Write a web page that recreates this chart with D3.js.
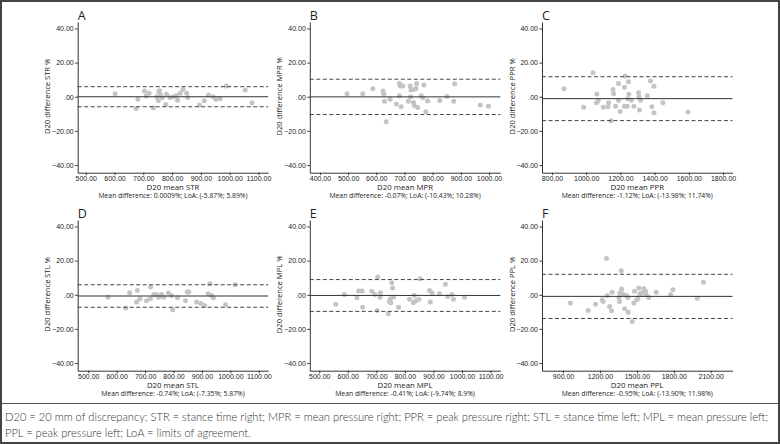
<!DOCTYPE html>
<html lang="en">
<head>
  <meta charset="utf-8" />
  <title>Bland-Altman plots D20</title>
  <script src="https://cdn.jsdelivr.net/npm/d3@7"></script>
  <style>
    body { margin: 0; background: #fff; }
    svg { display: block; font-family: "Open Sans", sans-serif; }
    .axis path, .axis line { stroke: #333; }
    .axis text { fill: #222; font-size: 7px; }
    .note { font-family: Lato, "Open Sans", sans-serif; font-weight: 300; fill: #333; }
  </style>
</head>
<body>
  <script type="text/javascript">
    // panel order: A STR, B MPR, C PPR, D STL, E MPL, F PPL
    var letters = ["A", "B", "C", "D", "E", "F"];
    var codes = ["STR", "MPR", "PPR", "STL", "MPL", "PPL"];
    var meanDiff = [0.0009, -0.07, -1.12, -0.74, -0.41, -0.95];
    var loaLow = [-5.87, -10.43, -13.98, -7.35, -9.74, -13.90];
    var loaHigh = [5.89, 10.28, 11.74, 5.87, 8.9, 11.98];
    var subtitles = [
      "Mean difference: 0.0009%; LoA: (-5.87%; 5.89%)",
      "Mean difference: -0.07%; LoA: (-10.43%; 10.28%)",
      "Mean difference: -1.12%; LoA: (-13.98%; 11.74%)",
      "Mean difference: -0.74%; LoA: (-7.35%; 5.87%)",
      "Mean difference: -0.41%; LoA: (-9.74%; 8.9%)",
      "Mean difference: -0.95%; LoA: (-13.90%; 11.98%)"
    ];
    var xDomains = [[472, 1134], [364, 1040], [742, 1855], [463, 1133], [467, 1134], [729, 2277]];
    var xTicks = [
      [500, 600, 700, 800, 900, 1000, 1100],
      [400, 500, 600, 700, 800, 900, 1000],
      [800, 1000, 1200, 1400, 1600, 1800],
      [500, 600, 700, 800, 900, 1000, 1100],
      [500, 600, 700, 800, 900, 1000, 1100],
      [900, 1200, 1500, 1800, 2100]
    ];
    var yTicks = [-40, -20, 0, 20, 40];
    var notes = [
      "D20 = 20 mm of discrepancy; STR = stance time right; MPR = mean pressure right; PPR = peak pressure right; STL = stance time left; MPL = mean pressure left;",
      "PPL = peak pressure left; LoA = limits of agreement."
    ];

    var strMean = [602, 675, 681, 704, 710, 720, 735, 747, 754, 756, 752, 760, 766, 778, 781, 793, 805, 814, 819, 828, 838, 851, 854, 895, 912, 926, 943, 952, 967, 988, 1054, 1078];
    var strDiff = [1.8, -6.9, -1.4, 3.3, 0.4, 2, -6.5, 0, 2.9, 3.5, -2.4, 1, -0.6, -4.5, 1.4, -0.4, 0, 0.6, -2, 2, 4.3, 2, -0.4, -4.9, -2.4, 1, 0, -1.4, -1.2, 6.3, 3.9, -3.5];

    var mprMean = [496, 552, 588, 624, 627, 629, 649, 635, 671, 682, 685, 682, 688, 694, 714, 720, 723, 722, 734, 741, 743, 732, 735, 747, 759, 765, 769, 776, 782, 825, 851, 875, 878, 969, 998];
    var mprDiff = [1.8, 1.8, 4.7, 3.3, 1.4, -2.7, -1.4, -14.7, -4.3, 7.8, 6.3, 0.6, -5.9, 6.3, -2.7, 6.3, 3.9, 0, 4.3, 4.9, 7.8, -3.3, -5.1, -6.3, 0.6, -0.6, 6.9, -8.8, -2.5, -2.2, 0.2, -2.7, 7.6, -4.9, -5.5];

    var pprMean = [870, 985, 1040, 1062, 1060, 1070, 1100, 1131, 1127, 1146, 1157, 1160, 1172, 1189, 1189, 1199, 1224, 1228, 1247, 1224, 1240, 1243, 1249, 1263, 1279, 1306, 1308, 1318, 1312, 1357, 1376, 1384, 1396, 1396, 1448, 1595];
    var pprDiff = [4.7, -6.2, 14, 1.6, -3.5, -2.3, -6.2, -3.5, -5.9, -14, 4.3, 1.8, -5.5, 7.8, -2, -8.6, 5.5, 12.1, 8.8, -5.5, -5.5, -1.2, 1.4, -2, -5.5, 2.3, 0, -2, -7.8, 0.6, 9.2, -5.9, 6.2, -9.4, -3.5, -9];

    var stlMean = [570, 632, 646, 673, 670, 682, 705, 719, 719, 731, 740, 748, 758, 766, 782, 793, 797, 814, 842, 848, 854, 881, 896, 910, 922, 928, 934, 940, 983, 1016];
    var stlDiff = [-1.4, -7.8, 1.2, 2.5, -4.3, -2.4, -3.5, 4.5, -2.4, 0.2, 0.2, -1.4, 0.2, -1.4, 1, -0.4, -8.8, -1.8, -3.5, 1.6, 1.6, -4.3, -5.1, -6.3, 0.6, 6.5, -0.4, -1.8, -5.9, 5.9];

    var mplMean = [558, 588, 632, 638, 650, 652, 684, 695, 705, 703, 713, 714, 742, 746, 749, 751, 754, 757, 760, 778, 816, 830, 833, 837, 849, 853, 886, 889, 895, 921, 942, 950, 965, 970, 1009];
    var mplDiff = [-5.5, 0.2, -1.8, 2.2, 2.2, -7.3, 2, 0.2, 10.4, -9.2, -1.4, 1.2, -11.2, -3.9, -2.4, -4.7, 7.1, 3.9, -1.4, -7.3, -2.7, -4.7, -0.4, -3.7, -2.7, 9.4, 2.5, -4.3, 1, 0.6, 6.1, -1, 0.2, -2.7, -1.4];

    var pplMean = [960, 1104, 1164, 1218, 1226, 1253, 1259, 1278, 1294, 1299, 1354, 1359, 1362, 1373, 1376, 1386, 1400, 1416, 1427, 1430, 1462, 1476, 1481, 1498, 1508, 1516, 1524, 1538, 1557, 1570, 1576, 1597, 1657, 1774, 1793, 1991, 2041];
    var pplDiff = [-4.9, -9.2, -5.5, -2.9, -3.9, 21.2, -0.6, -6.9, -9.4, 1.4, -1.6, -3.9, 1, 14.1, 3.3, 0.4, -8.2, -0.4, -1.6, -10.2, -15.7, -4.9, 2, -2.9, -2.4, 3.9, 0.4, 1, 3.5, 2, 0, -1.6, 1.4, 0, 2.9, -2, 7.3];

    var means = [strMean, mprMean, pprMean, stlMean, mplMean, pplMean];
    var diffs = [strDiff, mprDiff, pprDiff, stlDiff, mplDiff, pplDiff];

    var width = 780, height = 444;
    var svg = d3.select("body").append("svg").attr("width", width).attr("height", height);

    // layout of the six plot boxes
    var colLeft = [77.7, 309.8, 542];
    var rowTop = [22, 220];
    var plotW = 190.5, plotH = 150.7;
    var fmt = d3.format(".2f");
    function tickFmt(d) {
      return d === 0 ? ".00" : fmt(d);
    }

    letters.forEach(function(letter, i) {
      var left = colLeft[i % 3], top = rowTop[Math.floor(i / 3)];
      var x = d3.scaleLinear().domain(xDomains[i]).range([0, plotW]);
      var y = d3.scaleLinear().domain([-44.5, 43.8]).range([plotH, 0]);
      var g = svg.append("g").attr("transform", "translate(" + left + "," + top + ")");

      g.append("text").attr("x", 0).attr("y", -2.5)
        .style("font-size", "12.5px").style("fill", "#222").text(letter);

      var pts = means[i].map(function(m, k) { return [m, diffs[i][k]]; });
      g.append("g").selectAll("circle")
        .data(pts)
        .enter().append("circle")
        .attr("cx", function(d) { return x(d[0]); })
        .attr("cy", function(d) { return y(d[1]); })
        .attr("r", 2.5)
        .attr("fill", "#c4c4c4");

      g.append("line").attr("x1", 0).attr("x2", plotW)
        .attr("y1", y(meanDiff[i])).attr("y2", y(meanDiff[i]))
        .attr("stroke", "#333").attr("stroke-width", 1);
      [loaLow[i], loaHigh[i]].forEach(function(v) {
        g.append("line").attr("x1", 0).attr("x2", plotW)
          .attr("y1", y(v)).attr("y2", y(v))
          .attr("stroke", "#444").attr("stroke-width", 1)
          .attr("stroke-dasharray", "4,2.5");
      });

      g.append("g").attr("class", "axis")
        .attr("transform", "translate(0," + plotH + ")")
        .call(d3.axisBottom(x).tickValues(xTicks[i]).tickSize(2.5).tickPadding(1).tickSizeOuter(0).tickFormat(fmt));
      g.append("g").attr("class", "axis")
        .call(d3.axisLeft(y).tickValues(yTicks).tickSize(2.5).tickPadding(1.5).tickSizeOuter(0).tickFormat(tickFmt));

      g.append("text")
        .attr("transform", "translate(-27.5," + (plotH / 2 - 1) + ") rotate(-90)")
        .attr("text-anchor", "middle")
        .style("font-size", "7.6px").style("fill", "#222")
        .text("D20 difference " + codes[i] + " %");
      g.append("text").attr("x", plotW / 2).attr("y", plotH + 17.3)
        .attr("text-anchor", "middle")
        .style("font-size", "7.8px").style("fill", "#222")
        .text("D20 mean " + codes[i]);
      g.append("text").attr("x", plotW / 2).attr("y", plotH + 25.3)
        .attr("text-anchor", "middle")
        .style("font-size", "6.8px").style("fill", "#222")
        .text(subtitles[i]);
    });

    // footnote box and frame
    svg.append("line").attr("x1", 0).attr("x2", width).attr("y1", 403.5).attr("y2", 403.5)
      .attr("stroke", "#555").attr("stroke-width", 1);
    svg.append("rect").attr("x", 1).attr("y", 1).attr("width", width - 2).attr("height", height - 2)
      .attr("fill", "none").attr("stroke", "#444").attr("stroke-width", 2);

    // size the note so the first line fills the box width, as in the print
    var noteSize = 11.5;
    var probe = svg.append("text").attr("class", "note").style("font-size", noteSize + "px").text(notes[0]);
    var w0 = probe.node().getComputedTextLength();
    probe.remove();
    if (w0 > 764) noteSize = noteSize * 764 / w0;
    notes.forEach(function(t, k) {
      svg.append("text").attr("class", "note")
        .attr("x", 5).attr("y", 421 + k * 16)
        .style("font-size", noteSize + "px")
        .text(t);
    });
  </script>
</body>
</html>
